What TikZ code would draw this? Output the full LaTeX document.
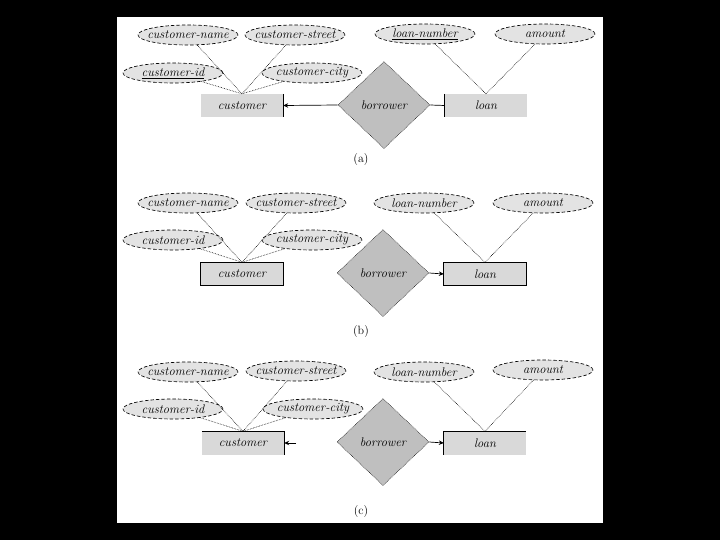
\documentclass[tikz,border=0pt]{standalone}
\usetikzlibrary{shapes.geometric,arrows.meta}
\newcommand{\erfont}{\fontsize{12.5}{14}\selectfont\itshape}
\newcommand{\zw}[1]{\makebox[0pt]{#1}}
\tikzset{
 attr/.style={ellipse, draw, dash pattern=on 3.5pt off 2pt, line width=0.65pt, fill=black!11, minimum width=100pt, minimum height=20pt, inner sep=0pt, font=\erfont},
 ent/.style={rectangle, fill=black!15, minimum width=82pt, minimum height=23pt, inner sep=0pt, font=\erfont},
 rel/.style={diamond, draw, densely dotted, line width=0.55pt, fill=black!25, minimum width=92pt, minimum height=87pt, inner sep=0pt, font=\erfont},
 link/.style={densely dotted, line width=0.6pt},
 edge/.style={line width=0.8pt},
 arr/.style={line width=0.7pt, -{Stealth[length=5pt,width=4.5pt]}},
 lab/.style={font=\fontsize{12}{14}\selectfont}
}
\begin{document}
\begin{tikzpicture}[x=1pt,y=-1pt]
\fill[black] (0,0) rectangle (720,540);
\useasboundingbox (0,0) rectangle (720,540);
\fill[white] (117,17) rectangle (603,523);
% ---------- (a)
\node[attr] (a-cn) at (188,35) {\zw{customer-name}};
\node[attr] (a-cs) at (295,35) {\zw{customer-street}};
\node[attr] (a-ci) at (173,73) {\zw{\underline{customer-id}}};
\node[attr] (a-cc) at (312,73) {\zw{customer-city}};
\node[ent] (a-cu) at (242,105.5) {customer};
\node[rel] (a-bo) at (384,105) {borrower};
\node[ent] (a-lo) at (486,105.5) {loan};
\node[attr] (a-ln) at (425,34) {\zw{\underline{loan-number}}};
\node[attr] (a-am) at (545,34) {\zw{amount}};
\node[lab] (a-lab) at (361,160) {(a)};
\foreach \n in {a-cn,a-cs,a-ci,a-cc} \draw[link] (\n) -- (a-cu.north);
\foreach \n in {a-ln,a-am} \draw[link] (\n) -- (a-lo.north);
\draw[edge] (a-cu.north east) -- (a-cu.south east);
\draw[edge] (a-lo.north west) -- (a-lo.south west);
\draw[arr] (a-bo.west) -- (a-cu.east);
\draw[line width=0.7pt] (a-bo.east) -- (a-lo.west);
% ---------- (b)
\node[attr] (b-cn) at (188,203) {\zw{customer-name}};
\node[attr] (b-cs) at (296,203) {\zw{customer-street}};
\node[attr] (b-ci) at (173,240) {\zw{customer-id}};
\node[attr] (b-cc) at (312,240) {\zw{customer-city}};
\node[ent] (b-cu) at (242,274) {customer};
\node[rel] (b-bo) at (383,273) {borrower};
\node[ent] (b-lo) at (485,274) {loan};
\node[attr] (b-ln) at (424,203) {\zw{loan-number}};
\node[attr] (b-am) at (543,203) {\zw{amount}};
\node[lab] (b-lab) at (361,332) {(b)};
\foreach \n in {b-cn,b-cs,b-ci,b-cc} \draw[link] (\n) -- (b-cu.north);
\foreach \n in {b-ln,b-am} \draw[link] (\n) -- (b-lo.north);
\draw[edge] (b-cu.north west) rectangle (b-cu.south east);
\draw[edge] (b-lo.north west) rectangle (b-lo.south east);
\draw[arr] (b-bo.east) -- (b-lo.west);
% ---------- (c)
\node[attr] (c-cn) at (188,372) {\zw{customer-name}};
\node[attr] (c-cs) at (296,371) {\zw{customer-street}};
\node[attr] (c-ci) at (173,409) {\zw{customer-id}};
\node[attr] (c-cc) at (313,409) {\zw{customer-city}};
\node[ent] (c-cu) at (243,443) {customer};
\node[rel] (c-bo) at (383,442) {borrower};
\node[ent] (c-lo) at (485,443) {loan};
\node[attr] (c-ln) at (424,372) {\zw{loan-number}};
\node[attr] (c-am) at (543,370) {\zw{amount}};
\node[lab] (c-lab) at (361,512) {(c)};
\foreach \n in {c-cn,c-cs,c-ci,c-cc} \draw[link] (\n) -- (c-cu.north);
\foreach \n in {c-ln,c-am} \draw[link] (\n) -- (c-lo.north);
\draw[edge] (c-cu.north west) -- (c-cu.north east) -- (c-cu.south east);
\draw[edge] (c-lo.south west) -- (c-lo.north west) -- (c-lo.north east);
\coordinate (c-tail) at (296,443);
\draw[arr] (c-tail) -- (c-cu.east);
\draw[arr] (c-bo.east) -- (c-lo.west);
\end{tikzpicture}
\end{document}
